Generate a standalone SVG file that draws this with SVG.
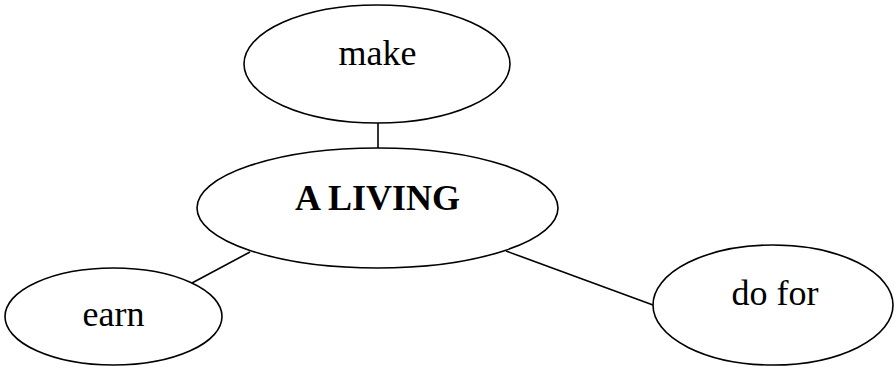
<svg xmlns="http://www.w3.org/2000/svg" width="894" height="367" viewBox="0 0 894 367">
<style>
ellipse{fill:#fff;stroke:#000;stroke-width:1.6}
line{stroke:#000;stroke-width:1.6}
text{font-family:"Liberation Serif","Times New Roman",serif;font-size:36px;text-anchor:middle;fill:#000}
.b{font-weight:bold}
</style>
<rect width="894" height="367" fill="#fff"/>
<g id="connectors">
<line x1="378" y1="123" x2="378" y2="148"/>
<line x1="192" y1="283" x2="250" y2="252"/>
<line x1="506" y1="251" x2="653" y2="305"/>
</g>
<g id="make"><ellipse cx="377" cy="64" rx="133" ry="59"/><text x="377.5" y="65">make</text></g>
<g id="living"><ellipse cx="377.5" cy="208" rx="180.5" ry="60"/><text class="b" x="377.5" y="210">A LIVING</text></g>
<g id="earn"><ellipse cx="113.5" cy="316.5" rx="108.5" ry="48.5"/><text x="113.5" y="326">earn</text></g>
<g id="dofor"><ellipse cx="773" cy="305" rx="120" ry="60"/><text x="775" y="305">do for</text></g>
</svg>
